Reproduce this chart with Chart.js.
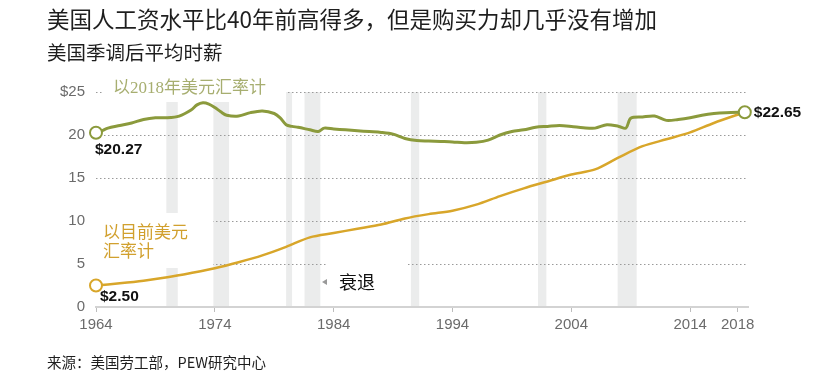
<!DOCTYPE html>
<html>
<head>
<meta charset="utf-8">
<script src="https://cdn.jsdelivr.net/npm/chart.js"></script>
<style>
  body { margin: 0; background: #fff; }
  #wrap { position: relative; width: 824px; height: 374px; overflow: hidden; }
  #chart { position: absolute; left: 0; top: 0; }
  .txt { position: absolute; left: 47px; white-space: nowrap; color: #1e1e1e; font-family: "Noto Sans CJK SC", sans-serif; }
  #title { top: 5px; font-size: 22.5px; line-height: 26px; }
  #subtitle { top: 40px; font-size: 19.5px; line-height: 24px; }
  #source { top: 353px; font-size: 14.5px; line-height: 18px; }
</style>
</head>
<body>
<div id="wrap">
  <canvas id="chart" width="824" height="374"></canvas>
  <div class="txt" id="title">美国人工资水平比40年前高得多，但是购买力却几乎没有增加</div>
  <div class="txt" id="subtitle">美国季调后平均时薪</div>
  <div class="txt" id="source">来源：美国劳工部，PEW研究中心</div>
</div>
<script>
// average hourly wage in 2018 dollars
const realYears = [1964, 1964.5, 1965, 1966, 1967, 1968, 1969, 1970, 1971, 1972, 1972.5, 1973, 1973.5, 1974, 1974.5, 1975, 1976, 1977, 1978, 1979, 1979.5, 1980, 1980.5, 1981, 1982, 1982.7, 1983.2, 1984, 1985, 1986, 1987, 1988, 1989, 1990, 1991, 1992, 1993, 1994, 1995, 1996, 1997, 1998, 1999, 2000, 2001, 2002, 2003, 2004, 2005, 2006, 2007, 2008, 2008.6, 2009, 2010, 2011, 2012, 2013, 2014, 2015, 2016, 2017, 2018.6];
const realWage = [20.27, 20.5, 20.8, 21.1, 21.4, 21.8, 22.0, 22.0, 22.2, 22.9, 23.5, 23.75, 23.6, 23.2, 22.7, 22.3, 22.2, 22.6, 22.8, 22.5, 22.0, 21.2, 21.0, 20.9, 20.6, 20.4, 20.8, 20.7, 20.6, 20.5, 20.4, 20.3, 20.1, 19.6, 19.35, 19.3, 19.25, 19.2, 19.1, 19.15, 19.4, 20.0, 20.4, 20.6, 20.9, 21.0, 21.1, 21.0, 20.85, 20.8, 21.2, 21.0, 20.8, 21.95, 22.1, 22.2, 21.7, 21.8, 22.0, 22.3, 22.5, 22.6, 22.65];

// average hourly wage in current dollars
const nominalYears = [1964, 1966, 1968, 1970, 1972, 1974, 1976, 1978, 1980, 1982, 1984, 1986, 1988, 1990, 1992, 1994, 1996, 1998, 2000, 2002, 2004, 2006, 2008, 2010, 2012, 2014, 2016, 2018.6];
const nominalWage = [2.50, 2.75, 3.05, 3.45, 3.95, 4.5, 5.2, 6.0, 7.0, 8.1, 8.6, 9.1, 9.6, 10.3, 10.8, 11.2, 11.9, 12.9, 13.8, 14.6, 15.4, 16.0, 17.4, 18.7, 19.5, 20.3, 21.4, 22.65];

// recessions
const recessionStart = [1969.92, 1973.88, 1980.0, 1981.55, 1990.5, 2001.2, 2007.9];
const recessionEnd = [1970.88, 1975.2, 1980.5, 1982.88, 1991.2, 2001.9, 2009.5];

const xTicks = [1964, 1974, 1984, 1994, 2004, 2014, 2018];
const yTicks = [0, 5, 10, 15, 20, 25];

const GREEN = '#8b9a3c';
const GREEN_TEXT = '#a7ae70';
const ORANGE = '#d8a62a';
const ORANGE_TEXT = '#d1a02e';
const BAND = '#ebecec';

function toPoints(xs, ys) {
    return xs.map((x, i) => ({ x: x, y: ys[i] }));
}

function endRadius(n, r, skipLast) {
    return Array.from({ length: n }, (_, i) => (i === 0 || (i === n - 1 && !skipLast)) ? r : 0);
}

// grey recession bands behind everything
const bandsPlugin = {
    id: 'bands',
    beforeDraw(chart) {
        const { ctx, chartArea, scales } = chart;
        ctx.save();
        ctx.fillStyle = BAND;
        recessionStart.forEach((s, i) => {
            const x1 = scales.x.getPixelForValue(s);
            const x2 = scales.x.getPixelForValue(recessionEnd[i]);
            ctx.fillRect(x1, chartArea.top, x2 - x1, chartArea.bottom - chartArea.top);
        });
        ctx.restore();
    },
    // white boxes behind the annotations
    beforeDatasetsDraw(chart) {
        const { ctx, chartArea } = chart;
        ctx.save();
        ctx.fillStyle = '#fff';
        ctx.fillRect(chartArea.left + 8, chartArea.top - 14, 182, 24);
        ctx.fillRect(chartArea.left, 213, 117, 55);
        ctx.fillRect(326, 262, 80, 36);
        ctx.restore();
    },
    afterDatasetsDraw(chart) {
        const { ctx, scales } = chart;
        const x = scales.x, y = scales.y;
        ctx.save();
        ctx.textBaseline = 'middle';
        ctx.textAlign = 'left';

        ctx.fillStyle = GREEN_TEXT;
        ctx.font = '17px "Liberation Serif", "Noto Sans CJK SC", serif';
        ctx.fillText('以2018年美元汇率计', x.getPixelForValue(1964) + 17, y.getPixelForValue(25) - 3);

        ctx.fillStyle = ORANGE_TEXT;
        ctx.font = '17px "Noto Sans CJK SC", sans-serif';
        ctx.fillText('以目前美元', x.getPixelForValue(1964) + 7, y.getPixelForValue(8.8));
        ctx.fillText('汇率计', x.getPixelForValue(1964) + 7, y.getPixelForValue(6.6));

        ctx.fillStyle = '#111';
        ctx.font = 'bold 15.5px "Liberation Sans", Arial, sans-serif';
        const r0 = realWage[0], n0 = nominalWage[0], rl = realWage[realWage.length - 1];
        ctx.fillText('$' + r0.toFixed(2), x.getPixelForValue(realYears[0]) - 1, y.getPixelForValue(r0) + 17);
        ctx.fillText('$' + n0.toFixed(2), x.getPixelForValue(nominalYears[0]) + 4, y.getPixelForValue(n0) + 11);
        ctx.fillText('$' + rl.toFixed(2), x.getPixelForValue(realYears[realYears.length - 1]) + 9, y.getPixelForValue(rl) + 1);

        // recession key
        ctx.fillStyle = '#999';
        ctx.beginPath();
        ctx.moveTo(322, 282);
        ctx.lineTo(327, 279);
        ctx.lineTo(327, 285);
        ctx.closePath();
        ctx.fill();
        ctx.fillStyle = '#111';
        ctx.font = '18px "Noto Sans CJK SC", sans-serif';
        ctx.fillText('衰退', 339, 282);
        ctx.restore();
    }
};

const chart = new Chart(document.getElementById('chart'), {
    type: 'line',
    data: {
        datasets: [
            {
                label: '以2018年美元汇率计',
                data: toPoints(realYears, realWage),
                borderColor: GREEN,
                borderWidth: 3,
                tension: 0.3,
                pointRadius: endRadius(realYears.length, 6, false),
                pointBackgroundColor: '#fff',
                pointBorderColor: GREEN,
                pointBorderWidth: 2,
                clip: false
            },
            {
                label: '以目前美元汇率计',
                data: toPoints(nominalYears, nominalWage),
                borderColor: ORANGE,
                borderWidth: 2.5,
                tension: 0.3,
                pointRadius: endRadius(nominalYears.length, 6, true),
                pointBackgroundColor: '#fff',
                pointBorderColor: ORANGE,
                pointBorderWidth: 2,
                clip: false
            }
        ]
    },
    options: {
        responsive: false,
        animation: false,
        layout: { padding: { left: 36, right: 76, top: 92, bottom: 32 } },
        plugins: {
            legend: { display: false },
            tooltip: { enabled: false }
        },
        scales: {
            x: {
                type: 'linear',
                min: 1964,
                max: 2018.87,
                afterBuildTicks: (scale) => { scale.ticks = xTicks.map(v => ({ value: v })); },
                afterFit: (scale) => { scale.height = 35; },
                grid: { drawOnChartArea: false, drawTicks: true, tickLength: 5, color: '#bdbdbd' },
                border: { display: true, color: '#d3d3d3', width: 2 },
                ticks: {
                    autoSkip: false,
                    maxRotation: 0,
                    padding: 4,
                    color: '#6b6b6b',
                    font: { family: '"Liberation Sans", Arial, sans-serif', size: 15 },
                    callback: (v) => String(v)
                }
            },
            y: {
                min: 0,
                max: 25,
                afterBuildTicks: (scale) => { scale.ticks = yTicks.map(v => ({ value: v })); },
                afterFit: (scale) => { scale.width = 60; },
                grid: {
                    drawTicks: false,
                    color: (c) => (c.tick && c.tick.value === 0) ? 'rgba(0,0,0,0)' : '#9a9a9a',
                    lineWidth: 1
                },
                border: { display: false, dash: [1.5, 2.5] },
                ticks: {
                    padding: 11,
                    color: '#6b6b6b',
                    font: { family: '"Liberation Sans", Arial, sans-serif', size: 15 },
                    callback: (v) => v === 25 ? '$25' : String(v)
                }
            }
        }
    },
    plugins: [bandsPlugin]
});
</script>
</body>
</html>
